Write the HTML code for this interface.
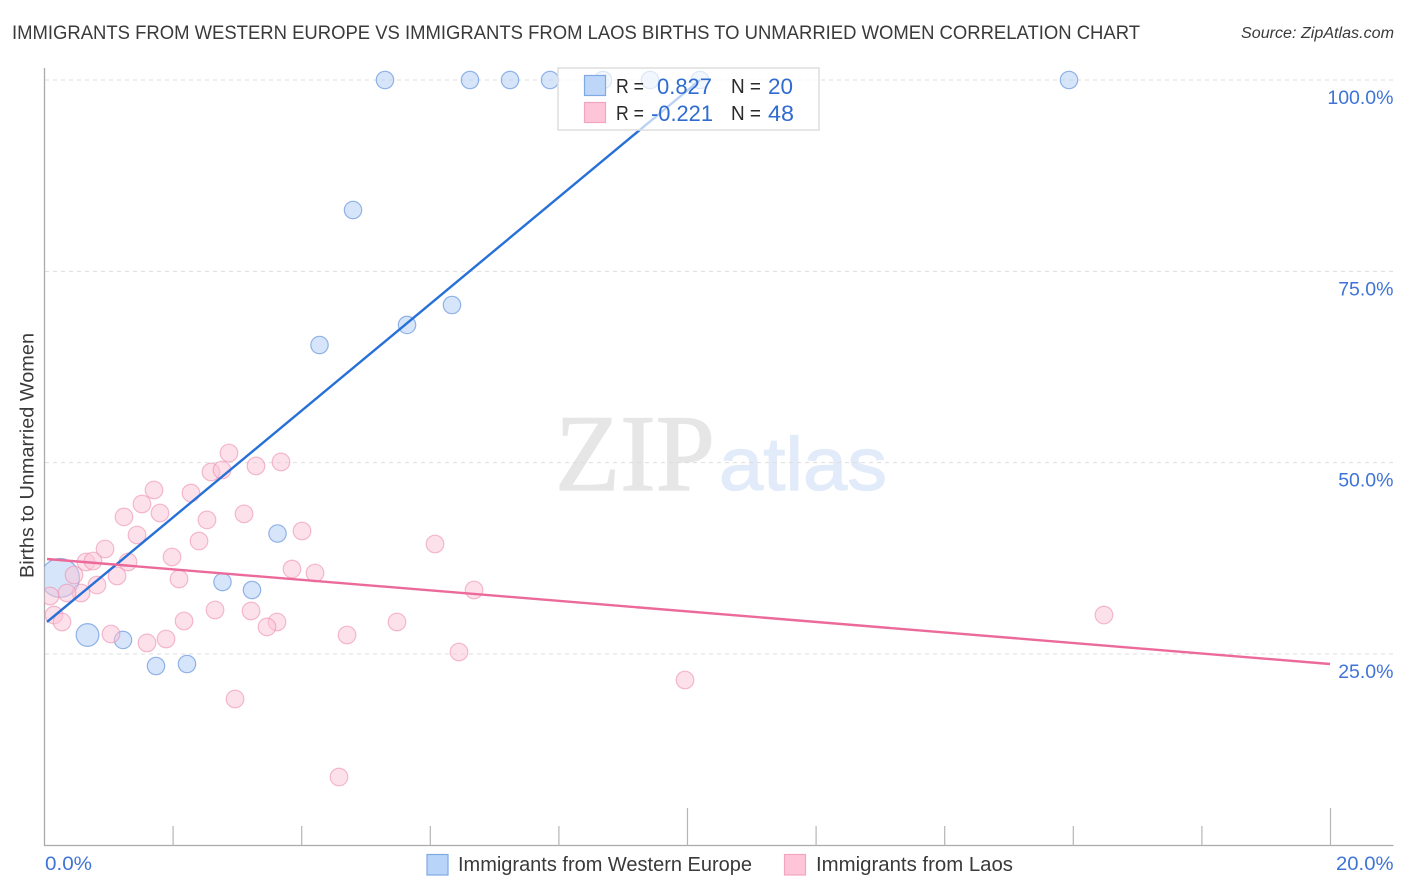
<!DOCTYPE html>
<html>
<head>
<meta charset="utf-8">
<title>Immigrants from Western Europe vs Immigrants from Laos Births to Unmarried Women Correlation Chart</title>
<style>
html,body{margin:0;padding:0;background:#fff;}
svg{display:block;}
text{font-family:"Liberation Sans",sans-serif;}
</style>
</head>
<body>
<svg id="chart" xmlns="http://www.w3.org/2000/svg" width="1406" height="892" viewBox="0 0 1406 892">
  <defs>
    <clipPath id="plot-clip"><rect x="44.5" y="60" width="1349" height="785"></rect></clipPath>
  </defs>
  <text x="12" y="39" font-size="19.5" fill="#3a3a3a" textLength="1128" lengthAdjust="spacingAndGlyphs">IMMIGRANTS FROM WESTERN EUROPE VS IMMIGRANTS FROM LAOS BIRTHS TO UNMARRIED WOMEN CORRELATION CHART</text>
  <text x="1241" y="38" font-size="15.5" font-style="italic" fill="#3a3a3a" textLength="153" lengthAdjust="spacingAndGlyphs">Source: ZipAtlas.com</text>

  <g>
    <text x="555" y="490" style="font-family:'Liberation Serif',serif" font-size="109" fill="#e6e6e6" stroke="#e6e6e6" stroke-width="1.2" textLength="160" lengthAdjust="spacingAndGlyphs">ZIP</text>
    <text x="719" y="490" font-size="75" fill="#e2ebf9" stroke="#e2ebf9" stroke-width="1.2" textLength="168" lengthAdjust="spacingAndGlyphs">atlas</text>
  </g>

  <g id="grid"></g>
  <g id="axes"></g>
  <g id="marks" clip-path="url(#plot-clip)"></g>
  <g id="trends"></g>

  <g>
    <rect x="558" y="68" width="261" height="62" fill="#ffffff" fill-opacity="0.68" stroke="#dedede" stroke-width="1.5"></rect>
    <rect x="584.5" y="75.5" width="21" height="20" fill="#b8d4f8" fill-opacity="0.92" stroke="#7fa9e4" stroke-width="1.2"></rect>
    <rect x="584.5" y="102.5" width="21" height="20" fill="#fdc5d7" stroke="#f3a5c0" stroke-width="1.2"></rect>
    <text x="616" y="93" font-size="20" fill="#2a2a2a" textLength="28" lengthAdjust="spacingAndGlyphs">R =</text>
    <text x="657" y="94" font-size="22" fill="#2f6bd0" textLength="55" lengthAdjust="spacingAndGlyphs">0.827</text>
    <text x="731" y="93" font-size="20" fill="#2a2a2a" textLength="30" lengthAdjust="spacingAndGlyphs">N =</text>
    <text x="768" y="94" font-size="22" fill="#2f6bd0" textLength="25" lengthAdjust="spacingAndGlyphs">20</text>
    <text x="616" y="120" font-size="20" fill="#2a2a2a" textLength="28" lengthAdjust="spacingAndGlyphs">R =</text>
    <text x="651" y="121" font-size="22" fill="#2f6bd0" textLength="62" lengthAdjust="spacingAndGlyphs">-0.221</text>
    <text x="731" y="120" font-size="20" fill="#2a2a2a" textLength="30" lengthAdjust="spacingAndGlyphs">N =</text>
    <text x="768" y="121" font-size="22" fill="#2f6bd0" textLength="26" lengthAdjust="spacingAndGlyphs">48</text>
  </g>

  <text transform="translate(33.5,578) rotate(-90)" font-size="19.5" fill="#3a3a3a" textLength="245" lengthAdjust="spacingAndGlyphs">Births to Unmarried Women</text>

  <g>
    <rect x="427" y="854.5" width="21" height="20.5" fill="#b8d4f8" stroke="#7fa9e4" stroke-width="1.2"></rect>
    <text x="458" y="871" font-size="20" fill="#3a3a3a" textLength="294" lengthAdjust="spacingAndGlyphs">Immigrants from Western Europe</text>
    <rect x="784.5" y="854.5" width="21" height="20.5" fill="#fdc5d7" stroke="#f3a5c0" stroke-width="1.2"></rect>
    <text x="816" y="871" font-size="20" fill="#3a3a3a" textLength="197" lengthAdjust="spacingAndGlyphs">Immigrants from Laos</text>
  </g>
</svg>
<script>
var yTickValues = [25, 50, 75, 100];
var yTickLabels = ["25.0%", "50.0%", "75.0%", "100.0%"];
var xTickValues = [0, 2, 4, 6, 8, 10, 12, 14, 16, 18, 20];
var xMajorTicks = [10, 20];
var xEndLabels = ["0.0%", "20.0%"];

var westernEuropeX = [5.295, 6.617, 7.240, 7.862, 8.686, 9.417, 10.194, 15.933, 4.798, 4.277, 5.638, 6.337, 3.624, 2.768, 3.227, 0.669, 1.221, 1.734, 2.216, 0.241];
var westernEuropeY = [100, 100, 100, 100, 100, 100, 100, 100, 83.01, 65.37, 67.99, 70.60, 40.74, 34.40, 33.36, 27.48, 26.83, 23.43, 23.69, 34.93];
var westernEuropeWeight = [1, 1, 1, 1, 1, 1, 1, 1, 1, 1, 1, 1, 1, 1, 1, 1.7, 1, 1, 1, 5];

var laosX = [1.439, 0.941, 0.645, 0.754, 1.299, 1.983, 2.403, 4.005, 3.849, 4.207, 0.459, 1.128, 2.092, 0.816, 0.568, 0.350, 0.086, 0.148, 0.272, 2.170, 2.652, 3.212, 3.616, 3.460, 1.034, 1.890, 1.594, 2.963, 4.580, 9.961, 6.446, 4.705, 5.482, 6.680, 16.477, 6.073, 3.678, 3.289, 2.869, 2.589, 2.760, 2.278, 1.703, 1.516, 1.796, 1.236, 2.527, 3.103];
var laosY = [40.55, 38.72, 37.02, 37.15, 37.02, 37.67, 39.76, 41.07, 36.10, 35.58, 35.32, 35.19, 34.80, 34.01, 32.97, 32.97, 32.58, 30.09, 29.18, 29.31, 30.75, 30.62, 29.18, 28.53, 27.61, 26.96, 26.44, 19.12, 8.92, 21.60, 25.26, 27.48, 29.18, 33.36, 30.09, 39.37, 50.09, 49.57, 51.26, 48.78, 49.04, 46.03, 46.43, 44.60, 43.42, 42.91, 42.52, 43.31];

var westernEuropeTrendX = [0.039, 10.194];
var westernEuropeTrendY = [29.18, 100];
var laosTrendX = [0.039, 19.992];
var laosTrendY = [37.41, 23.69];

var NS = "http://www.w3.org/2000/svg";
function xScale(v) { return 44.5 + v * 64.3; }
function yScale(v) { return 845.3 - v * 7.653; }
function rScale(w) { return 8.7 * Math.sqrt(w); }
function make(tag, attrs, parent) {
  var el = document.createElementNS(NS, tag);
  for (var k in attrs) { el.setAttribute(k, attrs[k]); }
  parent.appendChild(el);
  return el;
}

var grid = document.getElementById("grid");
var axes = document.getElementById("axes");
var marks = document.getElementById("marks");
var trends = document.getElementById("trends");

yTickValues.forEach(function (v, i) {
  var line = make("line", { x1: 45, x2: 1393, y1: yScale(v), y2: yScale(v), stroke: "#dddddd", "stroke-width": 1, "stroke-dasharray": "4 4" }, grid);
  
  
  var label = make("text", { x: 1393.5, y: yScale(v) + 24, "text-anchor": "end", "font-size": 19.5, fill: "#3f74d6" }, axes);
  
  
  label.textContent = yTickLabels[i];
});

var yAxis = make("line", { x1: 44.5, x2: 44.5, y1: 68, y2: 845.5, stroke: "#aaaaaa", "stroke-width": 1.3 }, axes);


var xAxis = make("line", { x1: 44, x2: 1393.5, y1: 845.5, y2: 845.5, stroke: "#aaaaaa", "stroke-width": 1.3 }, axes);



xTickValues.forEach(function (v) {
  if (v === 0) { return; }
  var major = xMajorTicks.indexOf(v) >= 0;
  var tick = make("line", { x1: xScale(v), x2: xScale(v), y1: major ? 808 : 826, y2: 845.5, stroke: "#b5b5b5", "stroke-width": 1.2 }, axes);
  
  
});

var xLabelStart = make("text", { x: 45, y: 870, "font-size": 19.5, fill: "#3f74d6", textLength: 47, lengthAdjust: "spacingAndGlyphs" }, axes);


xLabelStart.textContent = xEndLabels[0];
var xLabelEnd = make("text", { x: 1336, y: 870, "font-size": 19.5, fill: "#3f74d6", textLength: 57.5, lengthAdjust: "spacingAndGlyphs" }, axes);


xLabelEnd.textContent = xEndLabels[1];

westernEuropeX.forEach(function (v, i) {
  var c = make("circle", { cx: xScale(v), cy: yScale(westernEuropeY[i]), r: rScale(westernEuropeWeight[i]), fill: "#b5d0f5", "fill-opacity": 0.55, stroke: "#5d8fdc", "stroke-opacity": 0.65, "stroke-width": 1.2 }, marks);
  
  
});
laosX.forEach(function (v, i) {
  var c = make("circle", { cx: xScale(v), cy: yScale(laosY[i]), r: 8.8, fill: "#fcc3d5", "fill-opacity": 0.5, stroke: "#ec8fb0", "stroke-opacity": 0.6, "stroke-width": 1.2 }, marks);
  
  
});

var trendBlue = make("line", { x1: xScale(westernEuropeTrendX[0]), y1: yScale(westernEuropeTrendY[0]), x2: xScale(westernEuropeTrendX[1]), y2: yScale(westernEuropeTrendY[1]), stroke: "#2670d8", "stroke-width": 2.4 }, trends);


var trendPink = make("line", { x1: xScale(laosTrendX[0]), y1: yScale(laosTrendY[0]), x2: xScale(laosTrendX[1]), y2: yScale(laosTrendY[1]), stroke: "#ec6a9a", "stroke-width": 2.4 }, trends);


</script>
</body>
</html>
